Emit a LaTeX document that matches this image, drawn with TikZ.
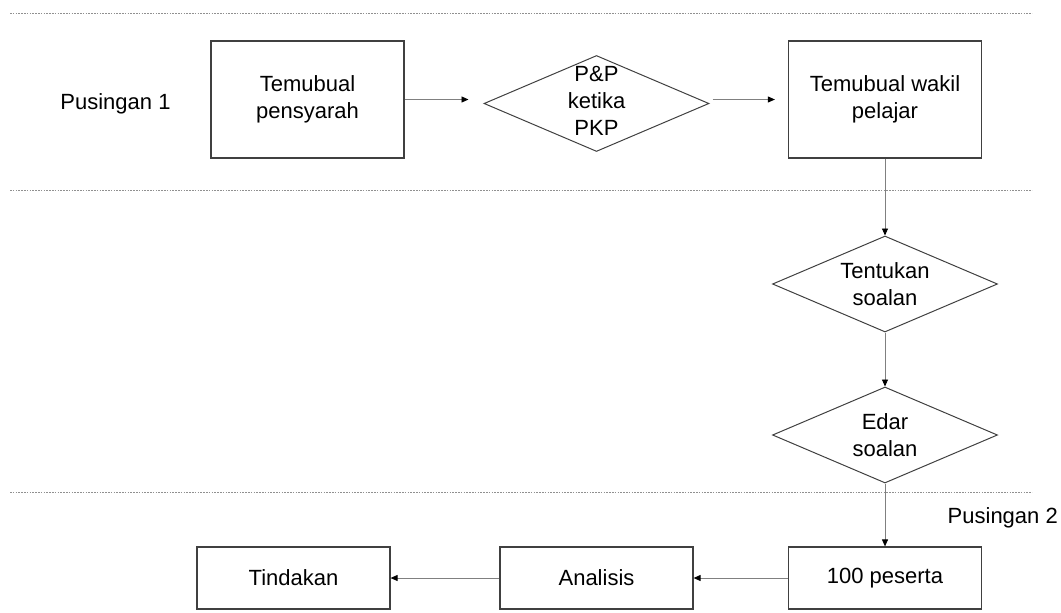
\documentclass[tikz,border=0pt]{standalone}
\usepackage{fontspec}
\setmainfont{Liberation Sans}
\usetikzlibrary{shapes.geometric,arrows.meta}
\definecolor{edge}{HTML}{404040}
\definecolor{conncol}{HTML}{808080}
\definecolor{sepcol}{HTML}{909090}
\tikzset{
  txt/.style={font=\fontsize{22}{27}\selectfont, align=center, inner sep=0pt, text=black},
  boxtall/.style={draw=edge, line width=1.2pt, rectangle, minimum width=193pt, minimum height=117pt, inner sep=0pt, font=\fontsize{22}{27}\selectfont, align=center},
  boxlow/.style={draw=edge, line width=1.2pt, rectangle, minimum width=193pt, minimum height=62pt, inner sep=0pt, font=\fontsize{22}{27}\selectfont, align=center},
  dia/.style={draw=edge, line width=1pt, diamond, minimum width=225pt, minimum height=96pt, inner sep=0pt},
  conn/.style={draw=conncol, line width=0.9pt, -{Triangle[length=7pt,width=6pt,fill=black,color=black]}},
  sep/.style={draw=sepcol, line width=0.7pt, dash pattern=on 1.6pt off 1.2pt}
}
\begin{document}
\begin{tikzpicture}[x=1pt,y=-1pt]
\useasboundingbox (0,0) rectangle (1061,613);
% separators
\draw[sep] (10,13) -- (1032,13);
\draw[sep] (10,190) -- (1032,190);
\draw[sep] (10,492) -- (1032,492);
% labels
\node[txt] (p1) at (115.5,104) {Pusingan 1};
\node[txt, anchor=base east] (p2) at (1058,523) {Pusingan 2};
% nodes
\node[boxtall] (A) at (307.5,99.5) {Temubual\\pensyarah};
\node[dia] (B) at (596.5,103.5) {};
\node[txt] (Bt) at (596.5,101) {P\&P\\ketika\\PKP};
\node[boxtall] (C) at (885,99.5) {Temubual wakil\\pelajar};
\node[dia] (D) at (885,284) {};
\node[txt] (Dt) at (885,284) {Tentukan\\soalan};
\node[dia] (E) at (885,435) {};
\node[txt] (Et) at (885,435) {Edar\\soalan};
\node[boxlow] (F) at (885,578) {100 peserta};
\node[boxlow] (G) at (596.5,578) {Analisis};
\node[boxlow] (H) at (293.5,578) {Tindakan};
% connectors
\draw[conn, shorten >=15pt] (A.east) -- (A.east -| B.west);
\draw[conn, shorten <=3pt, shorten >=13pt] (B.east |- C.west) -- (C.west);
\draw[conn] (C.south) -- (D.north);
\draw[conn] (D.south) -- (E.north);
\draw[conn] (E.south) -- (F.north);
\draw[conn] (F.west) -- (G.east);
\draw[conn] (G.west) -- (H.east);
\end{tikzpicture}
\end{document}
